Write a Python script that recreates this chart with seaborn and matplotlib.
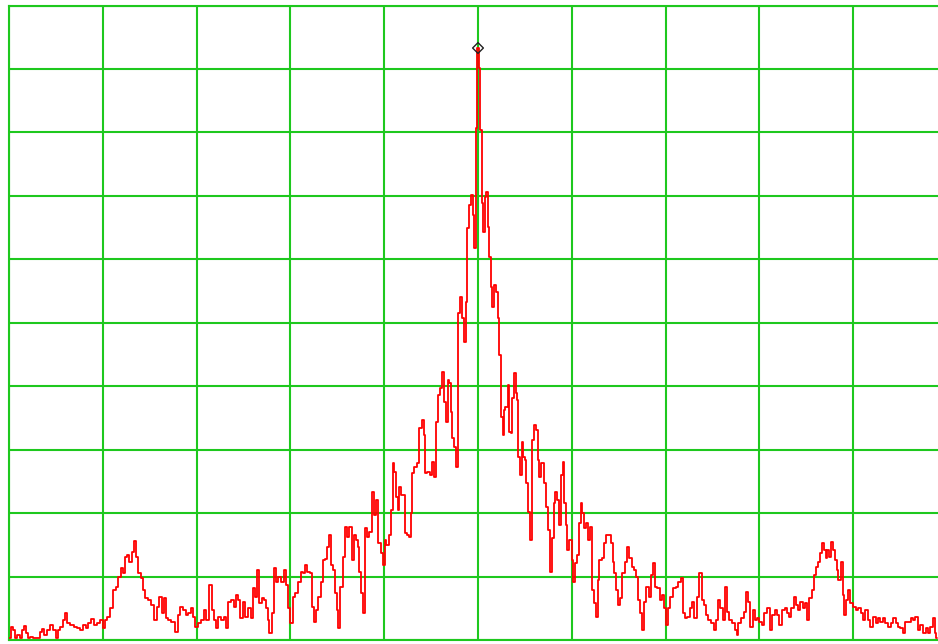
import matplotlib
matplotlib.use("Agg")
import matplotlib.pyplot as plt
import seaborn as sns
import pandas as pd

# Trace frequency (MHz, 1 MHz/div, 10 div span) and level (dBm, 10 dB/div, ref 0 dBm)
freq_mhz = [
    0.000, 0.032, 0.053, 0.075, 0.096, 0.128, 0.149, 0.171, 0.192, 0.213,
    0.245, 0.277, 0.309, 0.352, 0.362, 0.394, 0.426, 0.458, 0.480, 0.512,
    0.533, 0.565, 0.586, 0.608, 0.629, 0.672, 0.704, 0.736, 0.778, 0.800,
    0.832, 0.853, 0.885, 0.917, 0.949, 0.991, 1.013, 1.034, 1.055, 1.098,
    1.130, 1.151, 1.173, 1.205, 1.226, 1.247, 1.269, 1.290, 1.322, 1.343,
    1.365, 1.386, 1.418, 1.439, 1.471,
    1.503, 1.535, 1.567, 1.588, 1.620, 1.642, 1.663, 1.684, 1.716, 1.748,
    1.791, 1.812, 1.844, 1.866, 1.898, 1.919, 1.951, 1.972, 2.004, 2.026,
    2.068, 2.090, 2.111, 2.143, 2.175, 2.196, 2.217, 2.239, 2.271, 2.303,
    2.324, 2.345, 2.388, 2.409, 2.431, 2.452, 2.484, 2.505, 2.537, 2.559,
    2.591, 2.612, 2.633, 2.655, 2.676, 2.708, 2.729, 2.751, 2.761, 2.783,
    2.815, 2.836, 2.857, 2.889, 2.921, 2.942, 2.964, 2.985,
    3.017, 3.038, 3.070, 3.092, 3.124, 3.145, 3.166, 3.188, 3.220, 3.241,
    3.262, 3.284, 3.305, 3.337, 3.348, 3.380, 3.401, 3.422, 3.444, 3.465,
    3.486, 3.497, 3.518, 3.550, 3.561, 3.593, 3.614, 3.646, 3.667, 3.689,
    3.710, 3.721, 3.742, 3.763, 3.785, 3.806, 3.827, 3.859, 3.881, 3.902,
    3.923, 3.945, 3.977, 3.998, 4.009, 4.030, 4.062, 4.083, 4.094, 4.115,
    4.137, 4.147, 4.168, 4.190, 4.211, 4.232, 4.254, 4.275, 4.296,
    4.307, 4.339, 4.360, 4.392, 4.414, 4.424, 4.446, 4.467, 4.499, 4.520,
    4.542, 4.563, 4.584, 4.616, 4.627, 4.648, 4.670, 4.680, 4.702, 4.723,
    4.733, 4.755, 4.776, 4.787, 4.797, 4.819, 4.840, 4.861, 4.883, 4.893,
    4.915, 4.936, 4.947, 4.968, 4.979, 4.989, 5.000,
    5.011, 5.032, 5.053, 5.064, 5.075, 5.096, 5.107, 5.128, 5.149, 5.160,
    5.181, 5.203, 5.213, 5.235,
    5.256, 5.267, 5.277, 5.309, 5.320, 5.341, 5.362, 5.373, 5.394, 5.416,
    5.426, 5.437, 5.458, 5.480, 5.490, 5.512, 5.522, 5.544, 5.565, 5.576,
    5.586, 5.608, 5.629, 5.640, 5.661, 5.682, 5.693, 5.714, 5.736, 5.757,
    5.778, 5.800, 5.810, 5.832, 5.853, 5.874, 5.896, 5.906, 5.928, 5.949,
    5.959, 5.991, 6.013, 6.023, 6.045, 6.066, 6.087, 6.109, 6.119, 6.141,
    6.162, 6.183, 6.215, 6.226, 6.247, 6.269, 6.279,
    6.311, 6.333, 6.354, 6.375, 6.407, 6.429, 6.439, 6.461, 6.482, 6.503,
    6.535, 6.546, 6.578, 6.599, 6.631, 6.652, 6.674, 6.695, 6.716, 6.748,
    6.759, 6.780, 6.802, 6.834, 6.855, 6.866, 6.898, 6.919, 6.951, 6.972,
    6.994, 7.015, 7.036, 7.068, 7.090, 7.122, 7.143, 7.175, 7.196, 7.218,
    7.239, 7.271, 7.292, 7.324, 7.345, 7.367, 7.399, 7.420, 7.441, 7.473,
    7.505, 7.527, 7.548, 7.569, 7.601, 7.623, 7.644, 7.665, 7.697, 7.719,
    7.751, 7.761, 7.793, 7.825, 7.846, 7.868, 7.889,
    7.921, 7.942, 7.964, 7.985, 8.017, 8.038, 8.070, 8.092, 8.124, 8.145,
    8.177, 8.198, 8.230, 8.252, 8.284, 8.305, 8.326, 8.358, 8.380, 8.401,
    8.422, 8.454, 8.475, 8.497, 8.518, 8.550, 8.571, 8.593, 8.614, 8.635,
    8.667, 8.678, 8.699, 8.721, 8.731, 8.753, 8.774, 8.785, 8.817, 8.827,
    8.849, 8.881, 8.891, 8.913, 8.934, 8.955, 8.987, 9.009, 9.041, 9.062,
    9.094, 9.115, 9.147, 9.168, 9.200, 9.222, 9.254, 9.275, 9.307, 9.328,
    9.360, 9.382, 9.414, 9.435, 9.467, 9.488, 9.520, 9.541, 9.573, 9.595,
    9.627, 9.648, 9.680, 9.701, 9.733, 9.755, 9.787, 9.808, 9.840, 9.861,
    9.883, 9.893,
]

level_dbm = [
    -99.7, -98.0, -98.4, -99.7, -99.2, -99.7, -98.4, -97.8, -98.9, -99.7,
    -99.5, -99.7, -99.7, -98.7, -98.3, -99.2, -98.4, -97.6, -98.4, -99.7,
    -98.4, -98.0, -96.8, -95.7, -97.3, -97.6, -98.0, -98.1, -98.4, -97.6,
    -98.1, -97.3, -96.7, -97.6, -97.3, -96.8, -98.1, -96.8, -96.4, -95.0,
    -92.1, -91.6, -90.1, -88.7, -89.4, -86.9, -86.6, -87.7, -86.1, -84.4,
    -86.9, -89.4, -90.2, -92.1, -93.4,
    -93.7, -94.5, -96.8, -94.8, -93.2, -95.7, -93.4, -96.5, -96.8, -97.2,
    -98.7, -96.1, -94.8, -95.3, -96.1, -95.7, -95.0, -96.4, -98.0, -97.3,
    -96.8, -95.3, -96.8, -91.3, -95.3, -96.8, -98.1, -96.4, -96.8, -96.4,
    -98.1, -94.0, -93.7, -94.8, -92.9, -93.7, -96.5, -94.0, -96.4, -95.0,
    -96.5, -91.8, -93.2, -89.0, -94.2, -93.4, -93.7, -95.0, -96.8, -98.9,
    -95.7, -88.7, -90.9, -90.1, -90.9, -89.0, -91.3, -95.0,
    -97.3, -93.2, -92.6, -90.9, -89.3, -89.4, -88.2, -89.3, -89.4, -94.8,
    -97.2, -95.3, -93.2, -90.9, -87.4, -87.2, -85.3, -83.5, -88.2, -89.0,
    -92.6, -95.3, -98.1, -91.6, -86.9, -82.2, -83.8, -82.2, -87.4, -83.5,
    -84.2, -85.3, -89.3, -92.6, -95.7, -82.4, -83.8, -83.0, -76.7, -80.3,
    -77.9, -84.7, -86.3, -88.2, -84.2, -85.0, -83.5, -79.5, -72.1, -73.5,
    -77.5, -79.5, -75.9, -77.1, -77.1, -83.1, -83.5, -83.8, -80.0,
    -73.7, -72.7, -72.1, -66.6, -65.3, -67.7, -73.7, -73.5, -74.0, -71.9,
    -74.3, -65.6, -61.4, -60.3, -57.8, -62.5, -65.6, -59.0, -59.5, -64.1,
    -68.2, -69.6, -72.7, -58.7, -48.5, -45.9, -49.3, -53.0, -46.7, -35.1,
    -31.4, -29.9, -33.0, -38.2, -32.5, -19.3, -6.7,
    -9.9, -19.6, -31.1, -35.7, -30.2, -29.4, -34.9, -39.6, -44.4, -47.5,
    -44.1, -45.2, -49.3, -55.1,
    -64.9, -67.7, -63.8, -63.3, -59.8, -67.2, -67.4, -61.9, -57.9, -61.1,
    -62.2, -71.2, -74.0, -68.8, -71.2, -71.6, -75.3, -79.8, -84.2, -77.9,
    -68.5, -66.1, -66.9, -71.6, -74.3, -72.1, -72.1, -75.3, -79.0, -82.7,
    -89.3, -83.9, -78.4, -76.7, -77.9, -81.9, -74.0, -71.9, -78.4, -81.9,
    -85.8, -84.2, -87.4, -90.9, -87.9, -86.6, -81.6, -78.4, -80.0, -82.4,
    -81.6, -84.2, -82.2, -92.1, -94.2, -96.4, -90.5,
    -87.4, -87.1, -84.7, -83.5, -83.5, -84.7, -87.7, -89.4, -92.1, -94.5,
    -93.4, -89.4, -87.7, -85.3, -87.1, -88.5, -89.0, -90.1, -93.7, -95.7,
    -98.4, -94.0, -91.6, -93.2, -89.8, -87.9, -91.6, -91.8, -93.7, -92.9,
    -95.0, -97.6, -95.0, -93.2, -91.8, -91.6, -90.9, -90.2, -95.7, -96.5,
    -96.4, -95.0, -94.0, -96.5, -93.2, -89.4, -93.7, -94.5, -96.1, -96.8,
    -97.3, -98.4, -96.8, -93.7, -95.0, -96.8, -91.6, -95.6, -96.8, -97.3,
    -98.4, -99.2, -97.3, -96.5, -95.6, -92.4, -94.0,
    -98.0, -95.3, -96.8, -96.5, -97.2, -97.6, -95.7, -95.0, -98.4, -96.1,
    -95.3, -96.1, -97.6, -95.3, -95.0, -95.7, -96.4, -95.0, -93.2, -94.5,
    -95.3, -94.0, -95.0, -94.2, -96.8, -93.4, -92.1, -89.8, -88.5, -87.7,
    -86.3, -84.7, -85.8, -87.1, -85.8, -86.9, -84.6, -85.8, -87.4, -89.0,
    -90.5, -87.7, -92.9, -96.1, -93.7, -92.1, -94.2, -94.8, -95.3, -95.0,
    -95.7, -96.8, -95.3, -96.8, -98.0, -96.4, -97.3, -96.5, -97.2, -96.5,
    -97.3, -98.0, -97.3, -96.5, -97.3, -98.0, -98.1, -98.9, -97.2, -97.2,
    -96.5, -96.8, -96.4, -98.4, -97.6, -98.9, -98.1, -98.9, -98.0, -96.5,
    -98.9, -99.7,
]

# Peak marker
peak_freq = [5.000]
peak_level = [-6.7]

# Screen graticule: 10 x 10 divisions
x_divisions = list(range(0, 11))
y_divisions = list(range(-100, 1, 10))

trace = pd.DataFrame({"freq": freq_mhz, "level": level_dbm})
peak = pd.DataFrame({"freq": peak_freq, "level": peak_level})

sns.set_style("white")
fig = plt.figure(figsize=(9.38, 6.44), dpi=100)
W, H = 938.0, 644.0
ax = fig.add_axes([9 / W, 4 / H, 938 / W, 634.5 / H])

grid_green = "#1ec81e"
ax.set_xticks(x_divisions)
ax.set_yticks(y_divisions)
ax.grid(True, color=grid_green, linewidth=1.5)
ax.tick_params(length=0, labelbottom=False, labelleft=False)
for sp in ax.spines.values():
    sp.set_color(grid_green)
    sp.set_linewidth(1.5)

sns.lineplot(data=trace, x="freq", y="level", color="#ff0000", linewidth=1.3,
             estimator=None, sort=False, drawstyle="steps-mid", ax=ax, zorder=3)
sns.scatterplot(data=peak, x="freq", y="level", marker="D", s=30,
                facecolor="none", edgecolor="#222222", linewidth=1.0,
                ax=ax, zorder=4)

ax.set_xlim(0, 10)
ax.set_ylim(-100, 0)
ax.set_xlabel("")
ax.set_ylabel("")

fig.savefig("out.png", dpi=100, facecolor="white")
